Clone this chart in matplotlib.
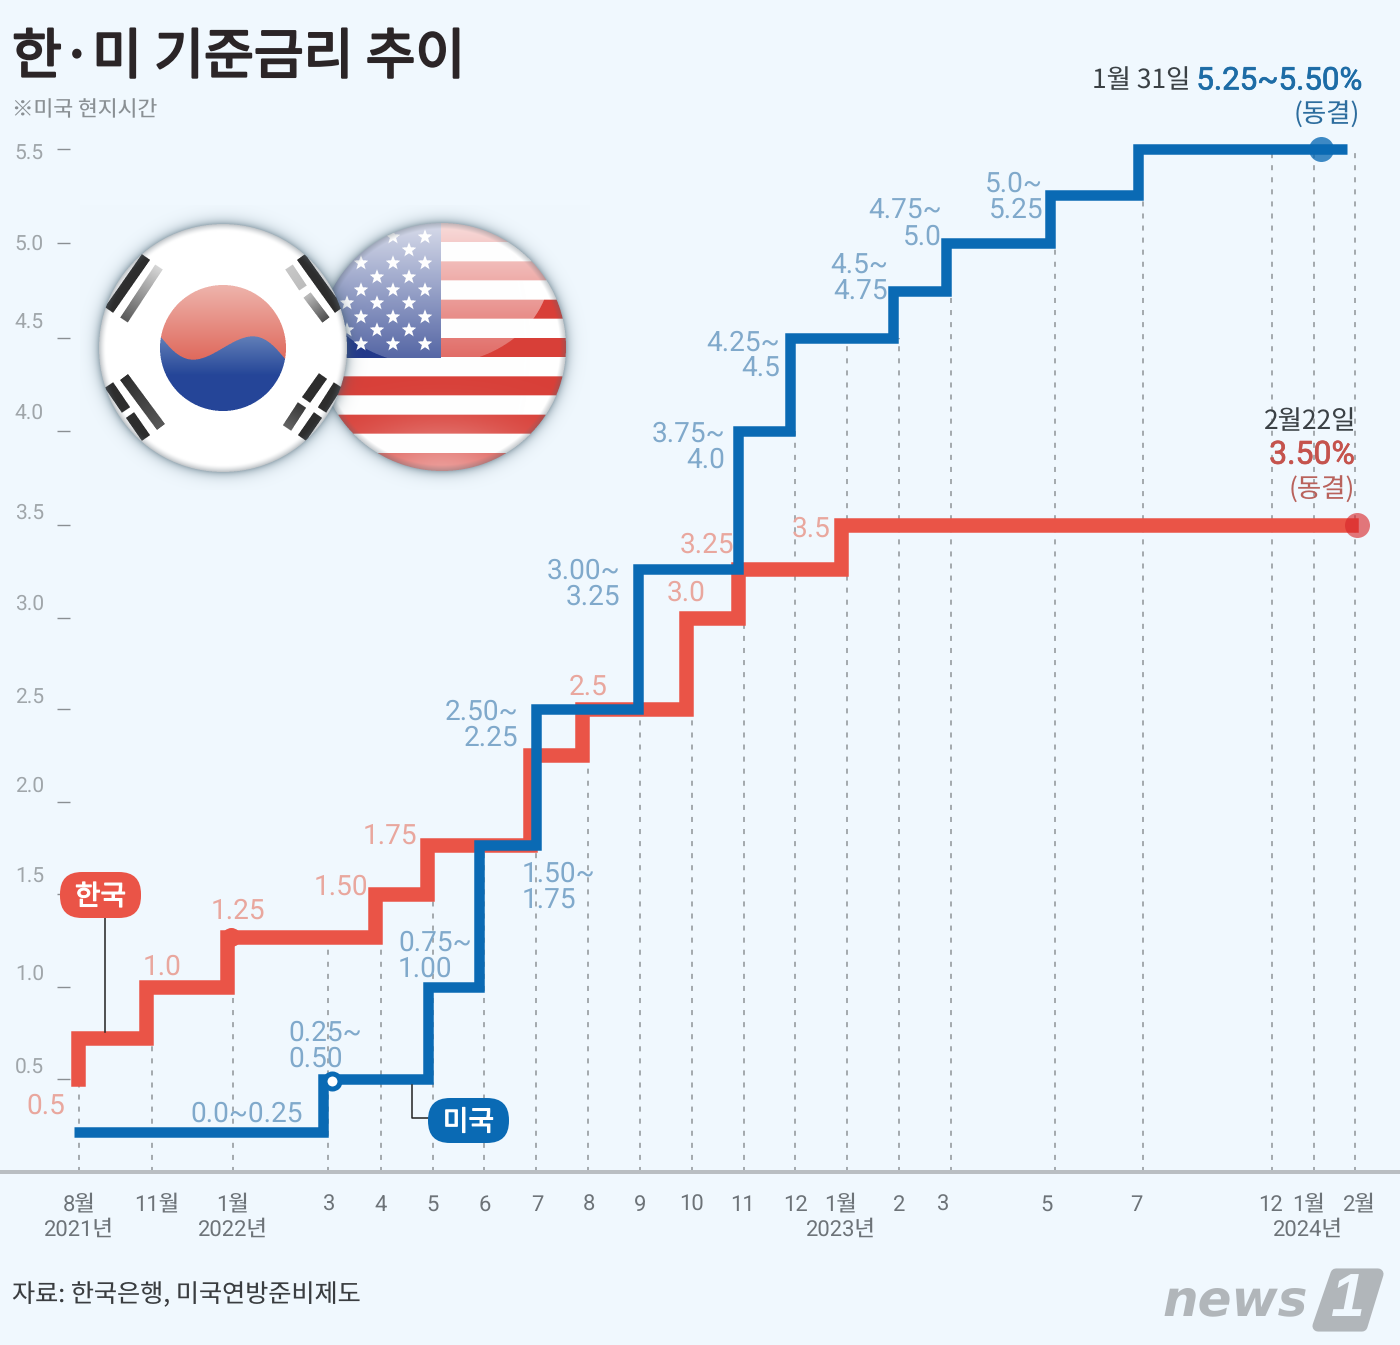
import numpy as np
import matplotlib
matplotlib.use("Agg")
import matplotlib.pyplot as plt
import matplotlib.patheffects as pe
from matplotlib.patches import FancyBboxPatch, Polygon
from matplotlib.path import Path
from matplotlib.transforms import Affine2D

plt.rcParams["text.hinting"] = "none"
plt.rcParams["text.hinting_factor"] = 1

# ---------- data ----------
tick_months = [0, 3, 5, 7, 8, 9, 10, 11, 12, 13, 14, 15, 16, 17, 18, 19, 21, 23, 28, 29, 30]
tick_labels = ["8월", "11월", "1월", "3", "4", "5", "6", "7", "8", "9", "10", "11", "12",
               "1월", "2", "3", "5", "7", "12", "1월", "2월"]
year_labels = ["2021년", "2022년", "2023년", "2024년"]
dash_tops = [0.5, 0.75, 1.0, 1.25, 1.25, 1.5, 1.75, 1.75, 2.25, 2.5, 2.5, 3.0, 4.0, 4.5, 4.5, 4.75, 5.0, 5.25, 5.5, 5.5, 5.5]
y_ticks = [0.5, 1.0, 1.5, 2.0, 2.5, 3.0, 3.5, 4.0, 4.5, 5.0, 5.5]

kr_month = [0.2, 0.2, 3, 5, 8, 9, 11, 12, 14, 15, 17, 30.05]
kr_rate = [0.5, 0.75, 1.0, 1.25, 1.5, 1.75, 2.25, 2.5, 3.0, 3.25, 3.5, 3.5]
us_month = [0, 7, 9, 10, 11.09, 13.06, 14.98, 16, 17.98, 19, 21, 23, 29.92]
us_rate = [0.25, 0.5, 1.0, 1.75, 2.5, 3.25, 4.0, 4.5, 4.75, 5.0, 5.25, 5.5, 5.5]

kr_labels = ["0.5", "1.0", "1.25", "1.50", "1.75", "2.5", "3.0", "3.25", "3.5"]
us_labels = ["0.0~0.25", "0.25~\n0.50", "0.75~\n1.00", "1.50~\n1.75", "2.50~\n2.25", "3.00~\n3.25",
             "3.75~\n4.0", "4.25~\n4.5", "4.5~\n4.75", "4.75~\n5.0", "5.0~\n5.25"]

# ---------- layout helpers (scale knots map data to figure pixels) ----------
W_PX, H_PX = 1400, 1345
BG = "#f0f8fe"
KR_C, US_C = "#ea5447", "#0a6ab4"
KR_T, US_T = "#e9a79e", "#80a9cb"
SANS = ["Roboto", "Noto Sans CJK KR", "DejaVu Sans"]
CJK = ["Noto Sans CJK KR", "DejaVu Sans"]
px = 0.72  # points per pixel at dpi 100

month_knots = np.array([-4, 0, 3, 5, 7, 8, 9, 10, 11, 12, 13, 14, 15, 16, 17, 18, 19, 21, 23, 28, 29, 30, 35], float)
month_px = np.array([-25, 79, 152, 233, 328, 381, 433, 484, 536, 588, 640, 692, 744, 795, 847, 899, 951, 1055, 1143,
                     1272, 1314, 1355, 1560], float)
rate_knots = np.array([0, .25, .5, .75, 1, 1.25, 1.5, 1.75, 2, 2.25, 2.5, 3, 3.25, 3.5, 4, 4.5, 4.75, 5, 5.25, 5.5, 7], float)
rate_px = np.array([1172, 1132, 1079, 1038, 987, 937, 894, 845, 802, 755, 709, 618, 569, 525, 431, 338, 291, 243, 195,
                    149, 0], float)
rate_h = H_PX - rate_px


def xf(v):
    return np.interp(v, month_knots, month_px)


def xi(v):
    return np.interp(v, month_px, month_knots)


def yf(v):
    return np.interp(v, rate_knots, rate_h)


def yi(v):
    return np.interp(v, rate_h, rate_knots)


fig = plt.figure(figsize=(W_PX / 100, H_PX / 100), dpi=100, facecolor=BG)
AX_L, AX_B, AX_T = 70, 1172, 100
ax = fig.add_axes([AX_L / W_PX, (H_PX - AX_B) / H_PX, (W_PX - AX_L) / W_PX, (AX_B - AX_T) / H_PX], zorder=1)
ax.patch.set_alpha(0)
ax.set_xscale("function", functions=(xf, xi))
ax.set_yscale("function", functions=(yf, yi))
ax.set_xlim(xi(AX_L), xi(W_PX))
ax.set_ylim(0, yi(H_PX - AX_T))
for s in ax.spines.values():
    s.set_visible(False)

# ---------- ticks ----------
ax.set_xticks(tick_months)
ax.set_xticklabels(tick_labels, fontfamily=SANS, fontsize=16, color="#6d7378")
ax.tick_params(axis="x", length=0, pad=16)
ax.set_yticks(y_ticks)
ax.set_yticklabels([f"{v:.1f}" for v in y_ticks], fontfamily=SANS, fontsize=15, color="#a0a6aa")
ax.tick_params(axis="y", length=13 * px, width=1, color="#8a8f93", pad=13 * px)
ax.minorticks_off()
x_off = [0, 5, 0, 1, 0, 0, 1, 1, 1, 0, 0, -1, 1, -6, 0, -8, -8, -7, -1, -5, 4]
y_off = [14, 15, 20, 18, 14, 16, 14, 20, 17, 1, -3]
for lab, d in zip(ax.get_xticklabels(), x_off):
    lab.set_transform(lab.get_transform() + Affine2D().translate(d, 0))
for lab, d in zip(ax.get_yticklabels(), y_off):
    lab.set_transform(lab.get_transform() + Affine2D().translate(0, d))

# ---------- dashed guides ----------
ax.vlines(tick_months, 0, dash_tops, colors="#8f9498", linewidth=1.1, linestyles=(0, (3.3, 4.6)), zorder=1)

# ---------- series ----------
kr_trans = ax.transData + Affine2D().translate(-6, 0)
us_trans = ax.transData + Affine2D().translate(-5, 0)
ax.step(kr_month, kr_rate, where="post", color=KR_C, lw=14.5 * px, solid_joinstyle="miter", solid_capstyle="projecting",
        transform=kr_trans, zorder=3, clip_on=False)
ax.step(us_month, us_rate, where="post", color=US_C, lw=10.5 * px, solid_joinstyle="miter", solid_capstyle="butt",
        transform=us_trans, zorder=4, clip_on=False)

# markers on the lines
ax.plot([4.95], [1.25], "o", ms=19 * px, color=KR_C, mew=0, zorder=3)
ax.plot([30.05], [3.5], "o", ms=25 * px, color="#d8262a", alpha=0.62, mew=0, zorder=5, clip_on=False)
ax.plot([29.17], [5.5], "o", ms=25 * px, color="#0a6ab4", alpha=0.78, mew=0, zorder=5)
ax.plot([7.08], [0.49], "o", ms=15 * px, mfc="white", mec=US_C, mew=5 * px, zorder=6)

# ---------- overlay in figure pixels ----------
ov = fig.add_axes([0, 0, 1, 1], zorder=2)
ov.patch.set_alpha(0)
ov.axis("off")


def rgb(h):
    return np.array(matplotlib.colors.to_rgb(h))


def make_flags():
    x0, x1, y0, y1 = 80, 590, 205, 490
    S = 3
    xs = (np.arange((x1 - x0) * S) + .5) / S + x0
    ys = (np.arange((y1 - y0) * S) + .5) / S + y0
    X, Y = np.meshgrid(xs, ys)
    img = np.ones(X.shape + (3,)) * rgb(BG)

    def over(col, a):
        nonlocal img
        c = rgb(col) if isinstance(col, str) else col
        img = img * (1 - a[..., None]) + c * a[..., None]

    def shadow(cx, cy, R):
        r = np.hypot(X - cx, Y - cy)
        over("#45606f", np.where(r > R - 1, 0.5 * np.exp(-np.clip(r - R, 0, None) / 5.0), 0))

    # United States
    cx, cy, R = 442, 347, 124
    shadow(cx, cy, R)
    r = np.hypot(X - cx, Y - cy)
    disk = r <= R
    k = np.floor((Y - 223) / (249 / 13)).astype(int)
    layer = np.ones(X.shape + (3,))
    layer[(k % 2 == 0)] = rgb("#d83f38")
    layer[(X < 441) & (Y < 358)] = rgb("#23398a")
    rows = [(237, [393, 425]), (250, [409]), (263, [361, 393, 425]), (277, [377, 409]), (290, [361, 393, 425]),
            (303, [347, 377, 409]), (317, [361, 393, 425]), (330, [347, 377, 409]), (344, [361, 393, 425])]
    star = Path.unit_regular_star(5, 0.42)
    pts = np.c_[X.ravel(), Y.ravel()]
    star_mask = np.zeros(X.size, bool)
    for sy, sxs in rows:
        for sx in sxs:
            near = (np.abs(pts[:, 0] - sx) < 9) & (np.abs(pts[:, 1] - sy) < 9)
            idx = np.where(near)[0]
            local = (pts[idx] - [sx, sy]) / 7.8 * [1, -1]
            star_mask[idx[star.contains_points(local)]] = True
    layer[star_mask.reshape(X.shape)] = 1.0
    gloss = (((X - 432) / 118) ** 2 + ((Y - 270) / 95) ** 2) <= 1
    ga = np.where(gloss, np.clip(0.82 - 0.62 * (Y - 223) / 142, 0, 1), 0)
    layer = layer * (1 - ga[..., None]) + ga[..., None]
    ba = 0.5 * np.exp(-(((X - 442) / 90) ** 2 + ((Y - 478) / 50) ** 2))
    layer = layer * (1 - ba[..., None]) + ba[..., None]
    va = 0.35 * np.clip((r - (R - 6)) / 6, 0, 1)
    layer = layer * (1 - va[..., None]) + rgb("#5a6670") * va[..., None]
    img[disk] = layer[disk]

    # Korea
    cx, cy, R = 223, 348, 124
    shadow(cx, cy, R)
    r = np.hypot(X - cx, Y - cy)
    disk = r <= R
    layer = np.ones(X.shape + (3,))
    th = np.radians(10)
    dx, dy = X - cx, Y - cy
    u = dx * np.cos(th) + dy * np.sin(th)
    v = -dx * np.sin(th) + dy * np.cos(th)
    T = 63
    tg = r <= T
    red = v < -17 * np.sin(np.pi * np.clip(u / T, -1, 1))
    t = np.clip((Y - 285) / 90, 0, 1)[..., None]
    red_col = rgb("#eeb4ac") * (1 - t) + rgb("#dc5a4c") * t
    t2 = np.clip((Y - 330) / 45, 0, 1)[..., None]
    blue_col = rgb("#6b88bd") * (1 - t2) + rgb("#254698") * t2
    layer = np.where((tg & red)[..., None], red_col, layer)
    layer = np.where((tg & ~red)[..., None], blue_col, layer)
    bars = [((146, 257), (109, 310), 10, .95, .95), ((159, 267), (124, 320), 9, .18, .75),
            ((301, 257), (339, 310), 10, .95, .95), ((289, 267), (303, 288), 9, .25, .3),
            ((307, 295), (326, 320), 9, .3, .8),
            ((109, 385), (126, 410), 10, .95, .95), ((130, 415), (146, 438), 10, .95, .95),
            ((124, 377), (161, 427), 10, .95, .75),
            ((338, 385), (322, 410), 10, .95, .95), ((318, 415), (302, 438), 10, .95, .95),
            ((323, 376), (306, 400), 10, .95, .95), ((302, 405), (287, 428), 10, .9, .7)]
    for a, b, w, a0, a1 in bars:
        ex, ey = b[0] - a[0], b[1] - a[1]
        ln = np.hypot(ex, ey)
        tt = ((X - a[0]) * ex + (Y - a[1]) * ey) / ln ** 2
        dd = np.abs((X - a[0]) * ey - (Y - a[1]) * ex) / ln
        al = np.where((tt >= 0) & (tt <= 1) & (dd <= w / 2), a0 + (a1 - a0) * np.clip(tt, 0, 1), 0)
        layer = layer * (1 - al[..., None]) + rgb("#222222") * al[..., None]
    va = 0.4 * np.clip((r - (R - 7)) / 7, 0, 1) ** 1.5
    layer = layer * (1 - va[..., None]) + rgb("#5a6670") * va[..., None]
    img[disk] = layer[disk]

    # anti-alias by box-averaging the supersampled picture
    h, w = img.shape[0] // S, img.shape[1] // S
    small = img.reshape(h, S, w, S, 3).mean(axis=(1, 3))
    return small, (x0, x1, y1, y0)


flags, ext = make_flags()
ov.imshow(flags, extent=ext, aspect="auto", interpolation="bilinear", zorder=1)

# baseline
ov.plot([0, W_PX], [1172, 1172], color="#b9bec2", lw=4 * px, zorder=1, solid_capstyle="butt")

# ---------- text ----------
ov.text(12, 58, "한·미 기준금리 추이", fontsize=39, family=CJK, color="#2b2527", va="center", ha="left",
        path_effects=[pe.withStroke(linewidth=1.6, foreground="#2b2527")])
ov.text(12, 110, "※미국 현지시간", fontsize=15.5, family=CJK, color="#8a9094", va="center")
ov.text(12, 1295, "자료: 한국은행, 미국연방준비제도", fontsize=18.1, family=CJK, color="#3a3d40", va="center")

for s, x in zip(year_labels, [79, 233, 841, 1308]):
    ov.text(x, 1230, s, fontsize=16, family=SANS, color="#6d7378", ha="center", va="center")

ov.text(1190, 81, "1월 31일", fontsize=19, family=CJK, color="#3b4145", va="center", ha="right")
ov.text(1361, 81, "5.25~5.50%", fontsize=22.5, family=SANS, color="#1d6ca6", va="center", ha="right",
        path_effects=[pe.withStroke(linewidth=0.5, foreground="#1d6ca6")])
ov.text(1360, 115, "(동결)", fontsize=19, family=CJK, color="#2d6d9e", va="center", ha="right")
ov.text(1356, 422, "2월22일", fontsize=19, family=CJK, color="#3b4145", va="center", ha="right")
ov.text(1355, 455, "3.50%", fontsize=23, family=SANS, color="#c5534d", va="center", ha="right",
        path_effects=[pe.withStroke(linewidth=0.5, foreground="#c5534d")])
ov.text(1355, 490, "(동결)", fontsize=19, family=CJK, color="#b9625c", va="center", ha="right")

kr_pos = [(46, 1106), (162, 967), (238, 911), (341, 887), (390, 836), (588, 687), (686, 593), (707, 545), (811, 529)]
for s, (x, y) in zip(kr_labels, kr_pos):
    ov.text(x, y, s, fontsize=20.5, family=SANS, color=KR_T, ha="center", va="center", zorder=5)

us_pos = [(303, 1114, "right"), (288, 1046, "left"), (398, 956, "left"), (522, 887, "left"), (518, 725, "right"),
          (620, 584, "right"), (725, 447, "right"), (780, 356, "right"), (888, 279, "right"), (942, 224, "right"),
          (1043, 197, "right")]
for s, (x, y, ha) in zip(us_labels, us_pos):
    ov.text(x, y, s, fontsize=20.5, family=SANS, color=US_T, ha=ha, va="center", linespacing=0.97, zorder=5)

# ---------- call-outs ----------
ov.plot([105, 105], [918, 1032], color="#222222", lw=1.1, zorder=2)
ov.plot([412, 412, 428], [1085, 1118, 1118], color="#222222", lw=1.1, zorder=2)
for (x0, x1, y0, y1, col, name) in [(60, 141, 872, 918, KR_C, "한국"), (428, 509, 1098, 1143, US_C, "미국")]:
    ov.add_patch(FancyBboxPatch((x0, y0), x1 - x0, y1 - y0, boxstyle="round,pad=0,rounding_size=22", fc=col, ec="none", zorder=3))
    ov.text((x0 + x1) / 2, (y0 + y1) / 2 + 2, name, fontsize=20, family=CJK, color="white", ha="center", va="center", zorder=4,
            path_effects=[pe.withStroke(linewidth=0.8, foreground="white")])

# ---------- logo ----------
LOGO = "#b1b6ba"
ov.text(1162, 1315, "news", fontsize=36, fontweight="bold", style="italic", family=["DejaVu Sans"], color=LOGO, ha="left",
        va="baseline", zorder=3)
ov.add_patch(Polygon([(1336, 1274), (1378, 1274), (1362, 1326), (1318, 1326)], closed=True, fc=LOGO, ec=LOGO, lw=8,
                     joinstyle="round", zorder=3))
ov.text(1347, 1300, "1", fontsize=44, fontweight="bold", style="italic", family=["Liberation Sans"], color=BG, ha="center",
        va="center", zorder=4)

ov.set_xlim(0, W_PX)
ov.set_ylim(H_PX, 0)

fig.savefig("out.png", dpi=100, facecolor=BG)
